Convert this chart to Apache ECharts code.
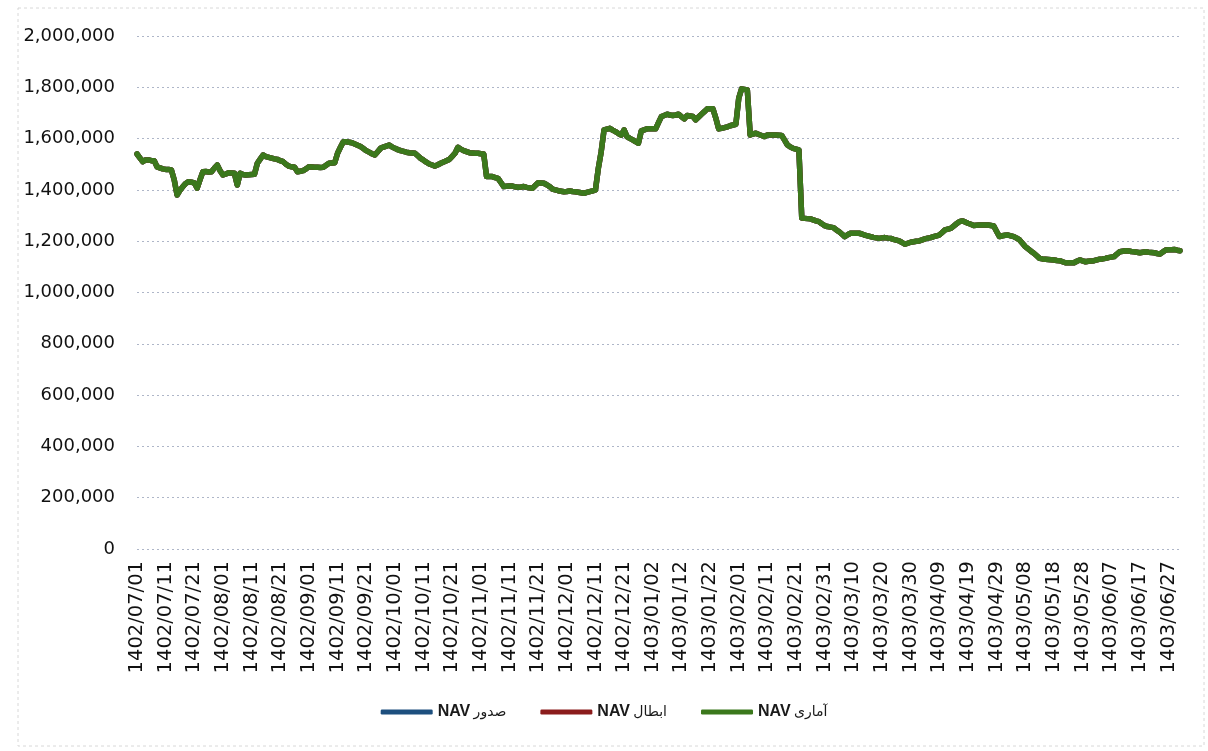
<!DOCTYPE html>
<html>
<head>
<meta charset="utf-8">
<script src="https://cdn.jsdelivr.net/npm/echarts@6/dist/echarts.min.js"></script>
<style>
html,body{margin:0;padding:0;background:#fff;}
#chart{width:1208px;height:751px;}
</style>
</head>
<body>
<div id="chart"></div>
<script>
// Calendar (Solar Hijri) month lengths used to build the daily category list
const startYear = 1402;
const monthLengths1402 = {7:30, 8:30, 9:30, 10:30, 11:30, 12:29};
const monthLengths1403 = {1:31, 2:31, 3:31, 4:31, 5:31, 6:31};

const seriesNames = ['NAV صدور', 'NAV ابطال', 'NAV آماری'];
const seriesColors = ['#1d4f7e', '#8b1c1c', '#3b781c'];

const yTicks = [0, 200000, 400000, 600000, 800000, 1000000, 1200000, 1400000, 1600000, 1800000, 2000000];

// Daily NAV values (1402/07/01 .. 1403/06/31)
const navStat = [
1540000,1525000,1510000,1517000,1517000,1514000,1514000,1490000,1486000,1482000,
1480000,1480000,1478000,1439000,1380000,1398000,1413000,1425000,1432000,1430000,
1427000,1407000,1440000,1471000,1472000,1470000,1471000,1485000,1497000,1475000,
1458000,1462000,1467000,1466000,1465000,1419000,1465000,1460000,1458000,1459000,
1460000,1461000,1504000,1520000,1536000,1530000,1527000,1524000,1521000,1519000,
1514000,1510000,1500000,1493000,1490000,1488000,1471000,1473000,1475000,1482000,
1490000,1489000,1488000,1488000,1487000,1488000,1496000,1504000,1505000,1506000,
1543000,1566000,1588000,1588000,1586000,1584000,1579000,1574000,1569000,1561000,
1553000,1547000,1541000,1536000,1549000,1562000,1567000,1571000,1575000,1568000,
1562000,1557000,1553000,1550000,1547000,1545000,1544000,1543000,1533000,1523000,
1516000,1508000,1501000,1497000,1493000,1498000,1504000,1509000,1514000,1519000,
1531000,1543000,1566000,1559000,1553000,1549000,1545000,1544000,1543000,1543000,
1541000,1540000,1452000,1452000,1452000,1448000,1445000,1429000,1413000,1414000,
1415000,1415000,1412000,1410000,1411000,1413000,1410000,1408000,1406000,1417000,
1428000,1427000,1426000,1420000,1413000,1403000,1400000,1397000,1395000,1393000,
1394000,1396000,1394000,1393000,1391000,1389000,1387000,1390000,1393000,1396000,
1400000,1484000,1549000,1634000,1637000,1640000,1633000,1627000,1620000,1614000,
1634000,1608000,1601000,1595000,1588000,1582000,1630000,1634000,1638000,1638000,
1638000,1638000,1662000,1686000,1690000,1695000,1692000,1690000,1692000,1695000,
1686000,1677000,1690000,1688000,1686000,1673000,1684000,1695000,1705000,1716000,
1716000,1716000,1680000,1638000,1640000,1643000,1646000,1650000,1653000,1656000,
1757000,1794000,1792000,1790000,1614000,1618000,1621000,1616000,1612000,1608000,
1614000,1614000,1614000,1614000,1613000,1612000,1594000,1575000,1568000,1562000,
1559000,1556000,1290000,1289000,1288000,1287000,1283000,1279000,1276000,1268000,
1261000,1257000,1255000,1253000,1245000,1237000,1228000,1218000,1225000,1231000,
1231000,1231000,1231000,1228000,1224000,1221000,1218000,1215000,1213000,1211000,
1213000,1214000,1212000,1211000,1207000,1204000,1201000,1195000,1188000,1192000,
1196000,1198000,1200000,1201000,1205000,1209000,1212000,1214000,1218000,1221000,
1224000,1234000,1244000,1247000,1250000,1259000,1268000,1276000,1279000,1275000,
1270000,1266000,1261000,1262000,1263000,1263000,1263000,1263000,1261000,1259000,
1238000,1218000,1221000,1223000,1224000,1221000,1218000,1212000,1205000,1192000,
1179000,1170000,1161000,1153000,1143000,1133000,1131000,1130000,1129000,1128000,
1127000,1125000,1124000,1120000,1116000,1116000,1116000,1116000,1122000,1127000,
1123000,1120000,1122000,1123000,1124000,1127000,1130000,1131000,1133000,1136000,
1138000,1140000,1150000,1159000,1161000,1163000,1162000,1160000,1159000,1157000,
1155000,1157000,1159000,1157000,1156000,1155000,1152000,1150000,1158000,1166000,
1167000,1167000,1168000,1165000,1163000
];
// Issue and redemption NAV coincide with the statistical NAV at this scale
const navIssue = navStat;
const navRedeem = navStat;

// Build daily category labels
const categories = [];
function pad(n){ return (n < 10 ? '0' : '') + n; }
for (const m of [7,8,9,10,11,12]) {
  for (let d = 1; d <= monthLengths1402[m]; d++) categories.push(startYear + '/' + pad(m) + '/' + pad(d));
}
for (const m of [1,2,3,4,5,6]) {
  for (let d = 1; d <= monthLengths1403[m]; d++) categories.push((startYear + 1) + '/' + pad(m) + '/' + pad(d));
}

const chart = echarts.init(document.getElementById('chart'), null, {renderer: 'canvas'});

const seriesData = [navIssue, navRedeem, navStat];

chart.setOption({
  animation: false,
  backgroundColor: '#ffffff',
  graphic: [{
    type: 'rect',
    shape: {x: 18, y: 8, width: 1186, height: 738},
    style: {fill: 'none', stroke: '#d8d8d8', lineWidth: 1, lineDash: [3, 3]},
    silent: true
  }],
  grid: {left: 137, right: 28, top: 36, bottom: 202, containLabel: false},
  legend: {
    bottom: 26,
    left: 'center',
    itemWidth: 52,
    itemHeight: 5,
    itemGap: 34,
    icon: 'roundRect',
    formatter: function (name) {
      const parts = name.split(' ');
      return '{b|' + parts[0] + '} {p|' + parts[1] + '}';
    },
    textStyle: {
      color: '#1a1a1a',
      rich: {
        b: {fontFamily: 'Liberation Sans, Arial', fontSize: 16, fontWeight: 'bold', color: '#1a1a1a'},
        p: {fontFamily: 'DejaVu Sans', fontSize: 14, color: '#1a1a1a'}
      }
    },
    data: seriesNames
  },
  xAxis: {
    type: 'category',
    data: categories,
    boundaryGap: false,
    axisLine: {show: false},
    axisTick: {show: false},
    axisLabel: {
      interval: 9,
      rotate: 90,
      margin: 12,
      fontFamily: 'DejaVu Sans',
      fontSize: 19.5,
      color: '#111'
    },
    splitLine: {show: false}
  },
  yAxis: {
    type: 'value',
    min: 0,
    max: 2000000,
    interval: 200000,
    axisLine: {show: false},
    axisTick: {show: false},
    axisLabel: {
      margin: 22,
      fontFamily: 'DejaVu Sans',
      fontSize: 18,
      color: '#111',
      formatter: function (v) { return yTicks.indexOf(v) >= 0 ? v.toLocaleString('en-US') : ''; }
    },
    splitLine: {show: true, lineStyle: {color: '#aeb6c8', type: [2, 3], width: 1}}
  },
  series: seriesNames.map(function (name, i) {
    return {
      name: name,
      type: 'line',
      data: seriesData[i],
      showSymbol: false,
      symbol: 'none',
      color: seriesColors[i],
      lineStyle: {color: seriesColors[i], width: 5.5, cap: 'round', join: 'round'},
      z: 2 + i
    };
  })
});
</script>
</body>
</html>
